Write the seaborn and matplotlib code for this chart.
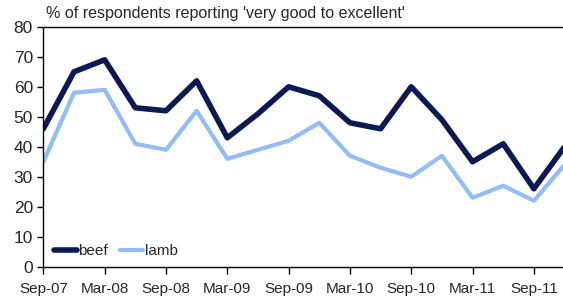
import pandas as pd
import seaborn as sns
import matplotlib.pyplot as plt
from matplotlib.lines import Line2D

# Quarterly survey results
quarters = ['Sep-07', 'Dec-07', 'Mar-08', 'Jun-08', 'Sep-08', 'Dec-08', 'Mar-09', 'Jun-09', 'Sep-09',
            'Dec-09', 'Mar-10', 'Jun-10', 'Sep-10', 'Dec-10', 'Mar-11', 'Jun-11', 'Sep-11', 'Dec-11']
beef = [46, 65, 69, 53, 52, 62, 43, 51, 60, 57, 48, 46, 60, 49, 35, 41, 26, 40]
lamb = [35, 58, 59, 41, 39, 52, 36, 39, 42, 48, 37, 33, 30, 37, 23, 27, 22, 34]

df = pd.DataFrame({'pos': range(len(quarters)), 'beef': beef, 'lamb': lamb})
long = df.melt(id_vars='pos', var_name='meat', value_name='pct')

sns.set_style('ticks')
plt.rcParams['font.family'] = ['Liberation Sans', 'DejaVu Sans']

fig, ax = plt.subplots(figsize=(5.63, 2.98), dpi=100)
fig.subplots_adjust(left=0.077, right=1.0, top=0.91, bottom=0.105)

sns.lineplot(data=long, x='pos', y='pct', hue='meat', palette={'beef': '#0b1a52', 'lamb': '#92bcf8'},
             ax=ax, legend=False)
ax.lines[0].set_linewidth(4)
ax.lines[1].set_linewidth(3)

ax.set_xlim(0, 16.95)
ax.set_ylim(0, 80)
ax.set_yticks(range(0, 81, 10))
ax.set_xticks(range(0, len(quarters), 2))
ax.set_xticklabels(quarters[::2], fontsize=11)
ax.tick_params(axis='y', labelsize=12.5, length=4, width=1, color='black')
ax.tick_params(axis='x', length=5, width=1, color='black', pad=6)
ax.set_xlabel('')
ax.set_ylabel('')
for s in ['left', 'bottom', 'top']:
    ax.spines[s].set_color('black')
    ax.spines[s].set_linewidth(1)
ax.spines['right'].set_visible(False)

# legend in the lower left corner
handles = [Line2D([], [], color='#0b1a52', lw=4), Line2D([], [], color='#92bcf8', lw=3)]
ax.legend(handles, ['beef', 'lamb'], loc='lower left', ncol=2, frameon=False, fontsize=11,
          handlelength=1.5, handletextpad=0.1, columnspacing=0.8, bbox_to_anchor=(0.0, -0.01),
          borderaxespad=0.3)

ax.text(0.005, 1.025, "% of respondents reporting 'very good to excellent'", transform=ax.transAxes,
        fontsize=11.5, ha='left', va='bottom')

plt.savefig('out.png', dpi=100)
